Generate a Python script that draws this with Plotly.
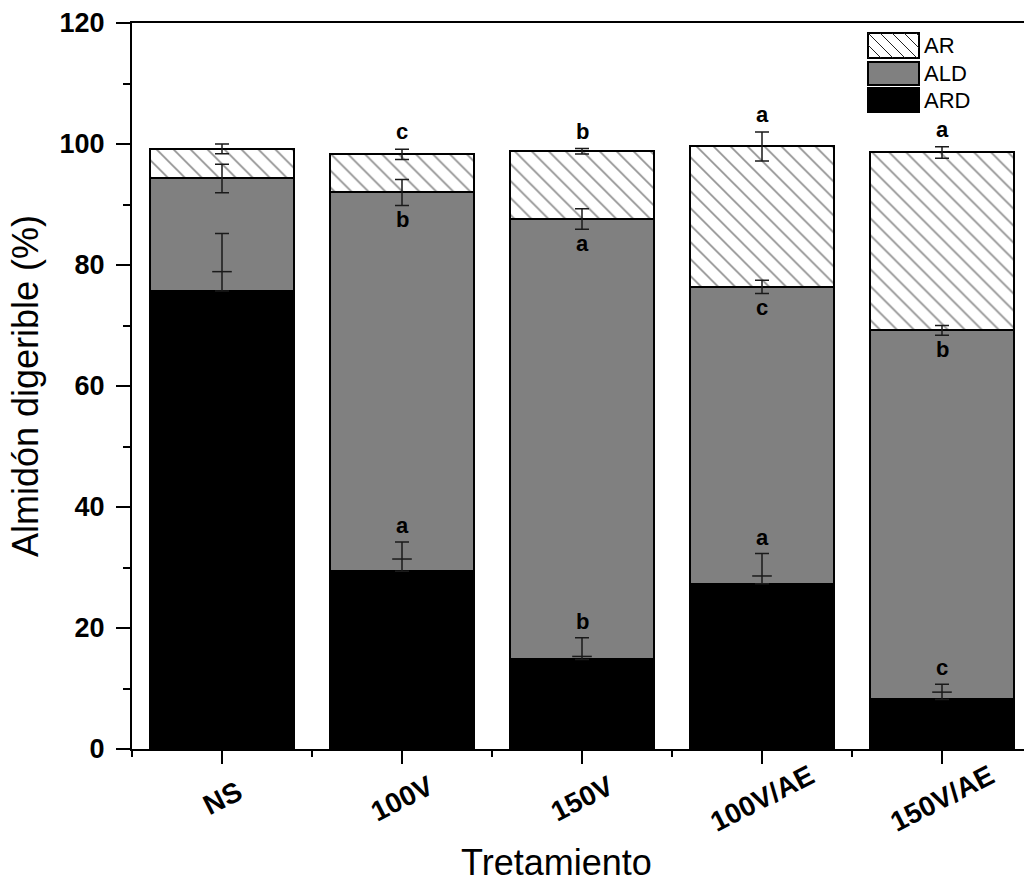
import plotly.graph_objects as go

# ---------------- data ----------------
categories = ["NS", "100V", "150V", "100V/AE", "150V/AE"]
ARD = [75.7, 29.4, 14.8, 27.3, 8.2]
ALD = [18.6, 62.6, 72.8, 49.1, 61.0]
AR = [4.9, 6.3, 11.2, 23.2, 29.4]
AR_err = [0.8, 0.85, 0.45, 2.4, 0.95]
ALD_err = [2.35, 2.15, 1.7, 1.1, 0.8]
ARD_err_upper = [9.5, 4.8, 3.6, 5.0, 2.5]
ARD_err_inner = [3.2, 2.0, 0.5, 1.3, 1.2]
AR_letters = ["", "c", "b", "a", "a"]
ALD_letters = ["", "b", "a", "c", "b"]
ARD_letters = ["", "a", "b", "a", "c"]
y_ticks = [0, 20, 40, 60, 80, 100, 120]
series_names = ["AR", "ALD", "ARD"]

# ---------------- layout constants ----------------
W, H = 1024, 884
L, R, T, B = 132, 0, 23, 135
PW, PH = W - L - R, H - T - B
FONT = "Arial, Liberation Sans, sans-serif"
ERRC = "#1a1a1a"

def px2paper(x, y):
    return (x - L) / PW, (H - B - y) / PH

xpos = list(range(len(categories)))
ald_top = [a + b for a, b in zip(ARD, ALD)]
total = [a + b + c for a, b, c in zip(ARD, ALD, AR)]

fig = go.Figure()
eb = dict(color=ERRC, thickness=1.5, width=7, visible=True)

fig.add_trace(go.Bar(
    x=xpos, y=ARD, name="ARD", width=0.8,
    marker=dict(color="black", line=dict(color="black", width=2)),
    showlegend=False,
))
fig.add_trace(go.Bar(
    x=xpos, y=ALD, name="ALD", width=0.8,
    marker=dict(color="#808080", line=dict(color="black", width=2)),
    showlegend=False,
))
fig.add_trace(go.Bar(
    x=xpos, y=AR, name="AR", width=0.8,
    marker=dict(color="white", line=dict(color="black", width=2),
                pattern=dict(shape="\\", fgcolor="#222222", bgcolor="white",
                             size=12, solidity=0.14)),
    showlegend=False,
))

# error bars drawn on top of all bars
inv = dict(size=1, color="rgba(0,0,0,0)")
fig.add_trace(go.Scatter(
    x=xpos, y=ARD, mode="markers", marker=inv, showlegend=False, hoverinfo="skip",
    error_y=dict(type="data", symmetric=False, array=ARD_err_upper,
                 arrayminus=[0] * len(ARD), **eb),
))
fig.add_trace(go.Scatter(
    x=xpos, y=ald_top, mode="markers", marker=inv, showlegend=False, hoverinfo="skip",
    error_y=dict(type="data", array=ALD_err, **eb),
))
fig.add_trace(go.Scatter(
    x=xpos, y=total, mode="markers", marker=inv, showlegend=False, hoverinfo="skip",
    error_y=dict(type="data", array=AR_err, **eb),
))
# inner caps of the ARD error bars
fig.add_trace(go.Scatter(
    x=xpos, y=[a + e for a, e in zip(ARD, ARD_err_inner)], mode="markers",
    marker=dict(symbol="line-ew", size=14, color=ERRC,
                line=dict(color=ERRC, width=1.5)),
    showlegend=False, hoverinfo="skip",
))

annotations = []
LETTER_FONT = dict(family=FONT, size=22, color="black", weight="bold")
for i in xpos:
    if AR_letters[i]:
        annotations.append(dict(x=i, y=total[i] + AR_err[i], text=AR_letters[i],
                                showarrow=False, yanchor="bottom", yshift=3,
                                font=LETTER_FONT))
    if ALD_letters[i]:
        annotations.append(dict(x=i, y=ald_top[i] - ALD_err[i], text=ALD_letters[i],
                                showarrow=False, yanchor="top", yshift=0,
                                font=LETTER_FONT))
    if ARD_letters[i]:
        annotations.append(dict(x=i, y=ARD[i] + ARD_err_upper[i], text=ARD_letters[i],
                                showarrow=False, yanchor="bottom", yshift=2,
                                font=LETTER_FONT))

# category labels (rotated, centred under the ticks)
_, ylab = px2paper(0, 798)
for i, c in zip(xpos, categories):
    annotations.append(dict(x=i, xref="x", y=ylab, yref="paper", text=c,
                            showarrow=False, textangle=-27,
                            xanchor="center", yanchor="middle",
                            font=dict(family=FONT, size=28, color="black", weight="bold")))

# x-axis title
xt, yt = px2paper(556, 862)
annotations.append(dict(x=xt, y=yt, xref="paper", yref="paper", text="Tretamiento",
                        showarrow=False, xanchor="center", yanchor="middle",
                        font=dict(family=FONT, size=36, color="black")))

# custom legend
shapes = []
leg_boxes = {"AR": (868, 33, 919, 58), "ALD": (868, 62, 919, 85), "ARD": (868, 88, 919, 112)}
leg_fill = {"AR": "white", "ALD": "#808080", "ARD": "black"}
for name in series_names:
    x0, y0, x1, y1 = leg_boxes[name]
    p0 = px2paper(x0, y1)
    p1 = px2paper(x1, y0)
    shapes.append(dict(type="rect", xref="paper", yref="paper",
                       x0=p0[0], y0=p0[1], x1=p1[0], y1=p1[1],
                       fillcolor=leg_fill[name], line=dict(color="black", width=2)))
    if name == "AR":
        h = y1 - y0
        t = x0 - 2 * 12
        while t < x1:
            sx, sy = t, y0
            ex, ey = t + h, y1
            if sx < x0:
                sy = y0 + (x0 - sx); sx = x0
            if ex > x1:
                ey = y1 - (ex - x1); ex = x1
            if sx < ex and sy < ey:
                a = px2paper(sx, sy); b = px2paper(ex, ey)
                shapes.append(dict(type="line", xref="paper", yref="paper",
                                   x0=a[0], y0=a[1], x1=b[0], y1=b[1],
                                   line=dict(color="#222222", width=1)))
            t += 12
    tx, ty = px2paper(922, (y0 + y1) / 2)
    annotations.append(dict(x=tx, y=ty, xref="paper", yref="paper", text=name,
                            showarrow=False, xanchor="left", yanchor="middle",
                            font=dict(family=FONT, size=22, color="black")))

fig.update_layout(
    width=W, height=H,
    margin=dict(l=L, r=R, t=T, b=B, pad=0),
    paper_bgcolor="white", plot_bgcolor="white",
    barmode="stack", bargap=0.2,
    showlegend=False,
    annotations=annotations, shapes=shapes,
    xaxis=dict(
        range=[-0.5, -0.5 + PW / 180], tickmode="linear", tick0=0, dtick=1,
        showticklabels=False, ticks="outside", ticklen=13, tickwidth=2,
        tickcolor="black", showline=True, linecolor="black", linewidth=2,
        mirror=True, showgrid=False, zeroline=False,
        minor=dict(ticks="outside", tick0=0, dtick=0.5, ticklen=6,
                   tickwidth=2, tickcolor="black", showgrid=False),
    ),
    yaxis=dict(
        range=[0, 120], tickmode="array", tickvals=y_ticks,
        ticks="outside", ticklen=14, tickwidth=2, tickcolor="black",
        showline=True, linecolor="black", linewidth=2, mirror=False,
        showgrid=False, zeroline=False, ticklabelstandoff=6,
        tickfont=dict(family=FONT, size=27, color="black", weight="bold"),
        minor=dict(ticks="outside", dtick=10, ticklen=7, tickwidth=2,
                   tickcolor="black", showgrid=False),
        title=dict(text="Almidón digerible (%)", standoff=10,
                   font=dict(family=FONT, size=36, color="black")),
    ),
)

fig.write_html("out.html")
